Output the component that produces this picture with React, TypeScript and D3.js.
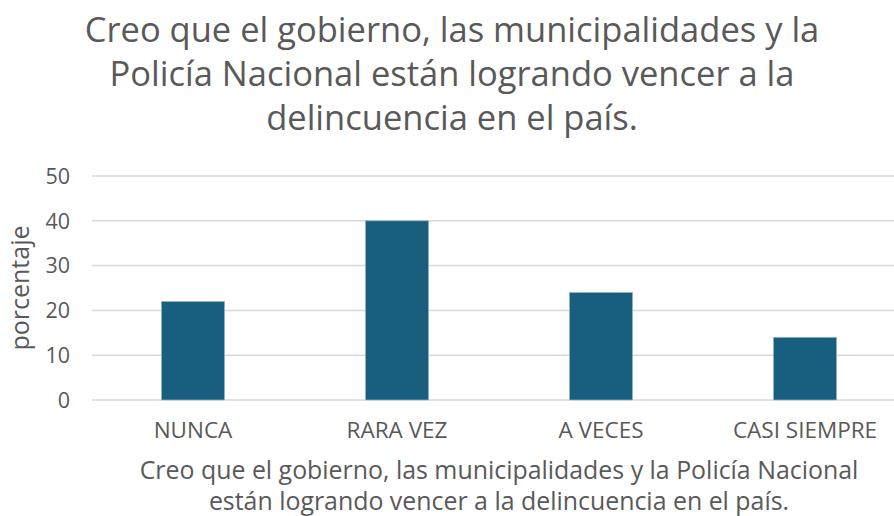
import React from "react";
import * as d3 from "d3";

const categories = ["NUNCA", "RARA VEZ", "A VECES", "CASI SIEMPRE"];
const values = [22, 40, 24, 14];
const yTicks = [0, 10, 20, 30, 40, 50];
const titleLines = [
  "Creo que el gobierno, las municipalidades y la",
  "Policía Nacional están logrando vencer a la",
  "delincuencia en el país.",
];
const xTitleLines = [
  "Creo que el gobierno, las municipalidades y la Policía Nacional",
  "están logrando vencer a la delincuencia en el país.",
];
const yTitle = "porcentaje";

const W = 894;
const H = 516;
const FONT = "'Open Sans', sans-serif";
const TEXT = "#595959";

export default function App() {
  const x = d3
    .scaleBand<string>()
    .domain(categories)
    .range([91, 907])
    .paddingInner(0.69)
    .paddingOuter(0.345);
  const y = d3.scaleLinear().domain([0, 50]).range([400, 176]);

  return (
    <svg
      width={W}
      height={H}
      style={{ position: "absolute", left: 0, top: 0, background: "#fff" }}
      fontFamily={FONT}
    >
      {titleLines.map((t, i) => (
        <text
          key={i}
          x={452}
          y={42 + i * 44}
          textAnchor="middle"
          fontSize={34.5}
          fill={TEXT}
        >
          {t}
        </text>
      ))}
      {yTicks.map((t) => (
        <g key={t}>
          <line
            x1={92}
            x2={907}
            y1={y(t)}
            y2={y(t)}
            stroke="#d9d9d9"
            strokeWidth={1.5}
          />
          <text
            x={70}
            y={y(t)}
            dy="0.36em"
            textAnchor="end"
            fontSize={21.5}
            fill={TEXT}
          >
            {t}
          </text>
        </g>
      ))}
      {categories.map((c, i) => (
        <g key={c}>
          <rect
            x={x(c)}
            y={y(values[i])}
            width={x.bandwidth()}
            height={y(0) - y(values[i])}
            fill="#175E7F"
            stroke="#9fb8c6"
            strokeWidth={0.7}
          />
          <text
            x={(x(c) as number) + x.bandwidth() / 2}
            y={438}
            textAnchor="middle"
            fontSize={22.5}
            fill={TEXT}
          >
            {c}
          </text>
        </g>
      ))}
      {xTitleLines.map((t, i) => (
        <text
          key={i}
          x={499}
          y={479 + i * 31}
          textAnchor="middle"
          fontSize={24.9}
          fill={TEXT}
        >
          {t}
        </text>
      ))}
      <text
        transform={`translate(29,288) rotate(-90)`}
        textAnchor="middle"
        fontSize={25}
        fill={TEXT}
      >
        {yTitle}
      </text>
    </svg>
  );
}
